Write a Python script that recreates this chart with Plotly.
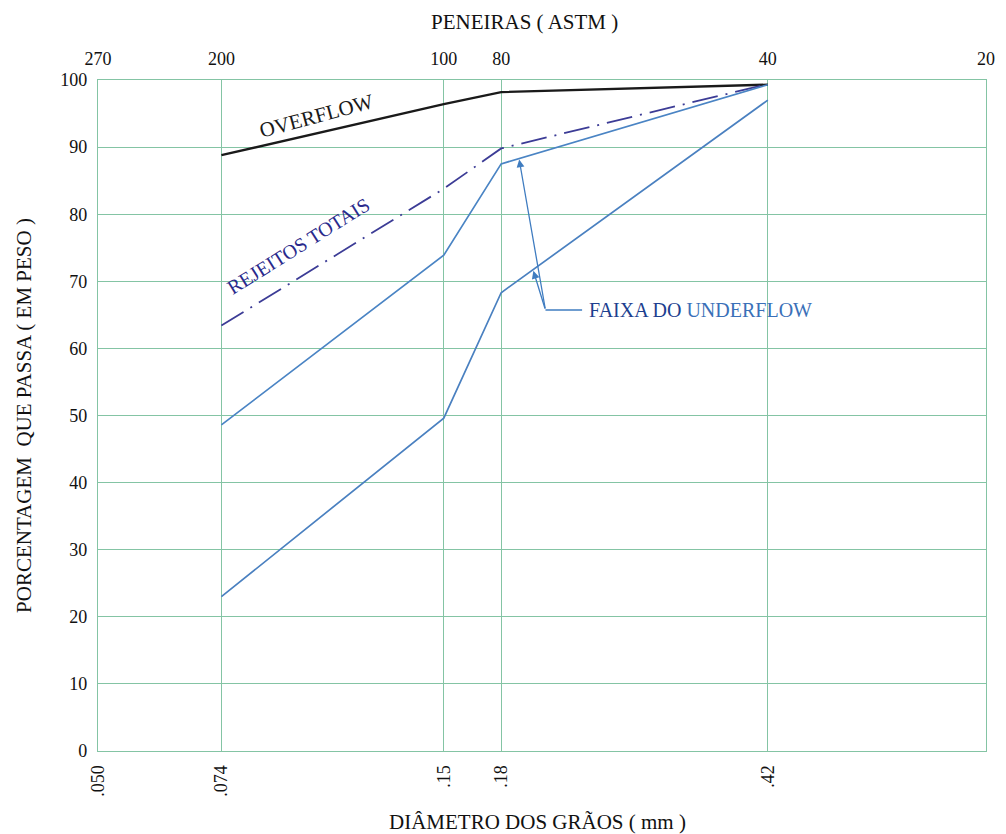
import numpy as np
import plotly.graph_objects as go

# ---- data ----
diam_mm = [0.074, 0.15, 0.18, 0.42]
overflow = [88.8, 96.4, 98.2, 99.3]
rejeitos = [63.4, 83.8, 89.8, 99.4]
under_sup = [48.6, 73.9, 87.5, 99.3]
under_inf = [23.0, 49.6, 68.3, 97.0]

bottom_ticks = [0.050, 0.074, 0.15, 0.18, 0.42]
bottom_text = [".050", ".074", ".15", ".18", ".42"]
top_ticks = [0.050, 0.074, 0.15, 0.18, 0.42, 0.84]
top_text = ["270", "200", "100", "80", "40", "20"]
y_ticks = list(range(0, 101, 10))

FONT = "Liberation Serif"
GRID = "#84c4a4"
INK = "#111111"
xr = [np.log10(0.05), np.log10(0.84)]

fig = go.Figure()
fig.add_trace(go.Scatter(x=diam_mm, y=overflow, mode="lines",
                         line=dict(color="#1a1a1a", width=2.4), showlegend=False))
fig.add_trace(go.Scatter(x=diam_mm, y=rejeitos, mode="lines",
                         line=dict(color="#3c3c96", width=1.8, dash="26px,8px,2px,8px"),
                         showlegend=False))
fig.add_trace(go.Scatter(x=diam_mm, y=under_sup, mode="lines",
                         line=dict(color="#4a84c4", width=1.7), showlegend=False))
fig.add_trace(go.Scatter(x=diam_mm, y=under_inf, mode="lines",
                         line=dict(color="#4a80c0", width=1.7), showlegend=False))
# invisible trace for the top axis
fig.add_trace(go.Scatter(x=top_ticks, y=[None] * len(top_ticks), xaxis="x2",
                         mode="markers", showlegend=False, hoverinfo="skip"))

def lx(v):
    return float(np.log10(v))

# plot area pixel geometry
L, R, T, B = 98, 995, 80, 751
def px(xpix):
    return (xpix - L) / (R - L)
def py(ypix):
    return 1 - (ypix - T) / (B - T)

annotations = [
    dict(x=lx(0.100), y=94.6, xref="x", yref="y", text="OVERFLOW", showarrow=False,
         textangle=-15, font=dict(family=FONT, size=21, color="#1a1a1a")),
    dict(x=lx(0.0945), y=75.2, xref="x", yref="y", text="REJEITOS TOTAIS", showarrow=False,
         textangle=-32, font=dict(family=FONT, size=20, color="#2a2a8c")),
    dict(x=px(592), y=py(310), xref="paper", yref="paper", xanchor="left", yanchor="middle",
         text="<span style='color:#1d3f8f'>FAIXA DO </span><span style='color:#3a70b8'>UNDERFLOW</span>",
         showarrow=False, font=dict(family=FONT, size=20)),
]

# arrows pointing to the underflow band limits
tail_x = xr[0] + (550 - L) / (R - L) * (xr[1] - xr[0])
tail_y = (B - 310) / (B - T) * 100
for hx, hy in [(0.1905, 88.3), (0.1992, 71.7)]:
    annotations.append(dict(
        x=lx(hx), y=hy, xref="x", yref="y", ax=tail_x, ay=tail_y, axref="x", ayref="y",
        text="", showarrow=True, arrowhead=2, arrowsize=1.2, arrowwidth=1.3,
        arrowcolor="#3f7cc0", standoff=1))

annotations.append(dict(x=0.48, y=1.0, xref="paper", yref="paper", yshift=58,
                        text="PENEIRAS ( ASTM )", showarrow=False, yanchor="middle",
                        font=dict(family=FONT, size=21, color=INK)))
annotations.append(dict(x=0.495, y=0.0, xref="paper", yref="paper", yshift=-71,
                        text="DIÂMETRO DOS GRÃOS ( mm )", showarrow=False, yanchor="middle",
                        font=dict(family=FONT, size=21, color=INK)))

shapes = [dict(type="line", xref="paper", yref="paper", x0=px(550), x1=px(587),
               y0=py(310), y1=py(310), line=dict(color="#3f7cc0", width=1.3))]

fig.update_layout(
    width=1006, height=834,
    margin=dict(l=L, r=1006 - R, t=T, b=834 - B),
    paper_bgcolor="white", plot_bgcolor="white",
    font=dict(family=FONT, size=18, color=INK),
    annotations=annotations, shapes=shapes,
    xaxis=dict(type="log", range=xr, tickvals=bottom_ticks, ticktext=bottom_text,
               tickangle=-90, showgrid=True, gridcolor=GRID, gridwidth=1.3,
               showline=True, linecolor=GRID, linewidth=1.3, mirror=True,
               zeroline=False, ticks="", ticklabelstandoff=6,
               tickfont=dict(family=FONT, size=18, color=INK)),
    xaxis2=dict(type="log", range=xr, overlaying="x", side="top",
                tickvals=top_ticks, ticktext=top_text, showgrid=False,
                ticks="", zeroline=False, showline=False, ticklabelstandoff=10,
                tickfont=dict(family=FONT, size=18, color=INK)),
    yaxis=dict(range=[0, 100], tickvals=y_ticks, showgrid=True, gridcolor=GRID,
               gridwidth=1.3, zeroline=False, ticks="", showline=True,
               linecolor=GRID, linewidth=1.3, mirror=True, ticklabelstandoff=6,
               tickfont=dict(family=FONT, size=18, color=INK),
               title=dict(text="PORCENTAGEM  QUE PASSA ( EM PESO )", standoff=22,
                          font=dict(family=FONT, size=21, color=INK))),
)

fig.write_html("out.html")
